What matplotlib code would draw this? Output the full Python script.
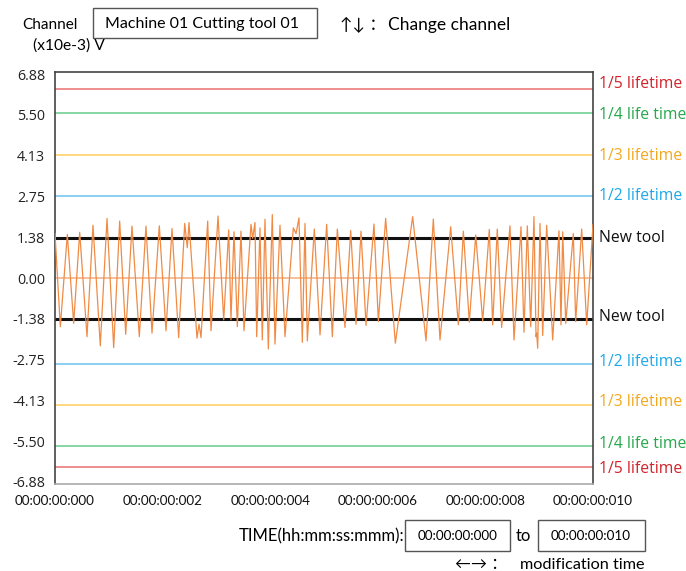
import matplotlib
matplotlib.use("Agg")
import matplotlib.pyplot as plt
from matplotlib.patches import Rectangle

W, H = 686, 571

# waveform extrema, time in ms, value in x10e-3 V
t_ms = [0.000, 0.099, 0.229, 0.347, 0.459, 0.595, 0.706, 0.842, 0.967, 1.091,
        1.202, 1.314, 1.431, 1.567, 1.691, 1.803, 1.939, 2.063, 2.175, 2.299,
        2.411, 2.459, 2.491, 2.639, 2.677, 2.714, 2.838, 2.900, 3.030, 3.136,
        3.229, 3.271, 3.327, 3.389, 3.457, 3.513, 3.643, 3.674, 3.717, 3.749,
        3.810, 3.853, 3.903, 3.965, 4.039, 4.089, 4.182, 4.275, 4.430, 4.480,
        4.535, 4.597, 4.647, 4.690, 4.820, 4.926, 5.050, 5.155, 5.248, 5.390,
        5.496, 5.595, 5.688, 5.781, 5.929, 6.010, 6.146, 6.326, 6.648, 6.896,
        7.032, 7.156, 7.355, 7.497, 7.590, 7.701, 7.820, 7.950, 8.073, 8.135,
        8.221, 8.302, 8.457, 8.532, 8.662, 8.717, 8.779, 8.842, 8.903, 8.941,
        8.953, 8.972, 9.015, 9.065, 9.139, 9.251, 9.368, 9.405, 9.437, 9.493,
        9.634, 9.678, 9.790, 9.883, 10.000]
volt = [1.50, -1.64, 1.47, -1.53, 1.54, -1.98, 1.78, -2.29, 2.01, -2.35,
        1.92, -1.90, 1.75, -1.98, 1.75, -1.86, 1.76, -1.78, 1.67, -2.01,
        1.84, 1.02, 1.87, -2.03, -1.56, -2.01, 1.92, -1.78, 2.09, -1.41,
        1.62, -1.41, 1.56, -1.64, 1.58, -1.78, 1.81, 1.34, 1.87, -1.98,
        1.69, -2.09, 1.98, -2.39, 2.14, -2.23, 1.78, -1.98, 1.69, 1.50,
        2.03, -2.17, 1.84, -2.12, 1.65, -1.92, 1.81, -1.98, 1.65, -1.67,
        1.60, -1.56, 1.58, -1.60, 1.82, -1.47, 2.01, -2.20, 2.07, -2.12,
        1.99, -2.09, 1.73, -1.58, 1.58, -1.49, 1.45, -1.45, 1.64, -1.58,
        1.65, -1.67, 1.76, -2.09, 1.73, -1.83, 1.76, -1.64, 2.07, -1.98,
        -1.86, -2.37, 1.84, -1.94, 1.78, -2.09, 1.59, -1.58, 1.56, -1.53,
        1.50, -1.47, 1.65, -1.58, 1.80]

# threshold lines (1/5, 1/4, 1/3, 1/2 lifetime, new tool)
upper_levels = [6.36, 5.55, 4.15, 2.75, 1.36]
lower_levels = [-6.36, -5.68, -4.30, -2.90, -1.38]
level_names = ["1/5 lifetime", "1/4 life time", "1/3 lifetime", "1/2 lifetime", "New tool"]
line_colors = ["#EC7B7B", "#72CF93", "#FFD36B", "#79C8F0", "#111111"]
text_colors = ["#D2232A", "#25A84A", "#F2A81D", "#1FA8E8", "#111111"]
upper_text_y = [6.55, 5.50, 4.13, 2.75, 1.36]
lower_text_y = [-6.46, -5.60, -4.20, -2.82, -1.30]

yticks = [6.88, 5.50, 4.13, 2.75, 1.38, 0.00, -1.38, -2.75, -4.13, -5.50, -6.88]
xticks = [0, 2, 4, 6, 8, 10]
xtick_labels = ["00:00:00:000", "00:00:00:002", "00:00:00:004",
                "00:00:00:006", "00:00:00:008", "00:00:00:010"]

plt.rcParams['font.family'] = ['Lato', 'DejaVu Sans', 'Noto Sans CJK SC']

fig = plt.figure(figsize=(W / 100, H / 100), dpi=100)
ax = fig.add_axes([55 / W, 1 - 484 / H, (593 - 55) / W, (484 - 72) / H])

ax.axhline(0, color="#F6B48A", lw=1.2, zorder=1)
for i in range(5):
    lw = 2.2 if i == 4 else 1.2
    ax.axhline(upper_levels[i], color=line_colors[i], lw=lw, zorder=2)
    ax.axhline(lower_levels[i], color=line_colors[i], lw=lw, zorder=2)
    ax.text(1.012, upper_text_y[i], level_names[i], color=text_colors[i],
            transform=ax.get_yaxis_transform(), fontsize=11.3,
            va="center", ha="left", family="Open Sans")
    ax.text(1.012, lower_text_y[i], level_names[i], color=text_colors[i],
            transform=ax.get_yaxis_transform(), fontsize=11.3,
            va="center", ha="left", family="Open Sans")

ax.plot(t_ms, volt, color="#F08B45", lw=0.9, zorder=3)

ax.set_xlim(0, 10)
ax.set_ylim(-6.95, 6.95)
ax.set_yticks(yticks)
ax.set_yticklabels(["%.2f" % v for v in yticks], family="Open Sans", fontsize=10.3, color="#222222")
ax.set_xticks(xticks)
ax.set_xticklabels(xtick_labels, fontsize=9.7, color="#111111")
ax.tick_params(length=0, pad=7)
ax.tick_params(axis="x", pad=8)
for s in ["left", "top", "right"]:
    ax.spines[s].set_color("#444444")
    ax.spines[s].set_linewidth(1.2)
ax.spines["bottom"].set_color("#AAAAAA")
ax.spines["bottom"].set_linewidth(1.2)


def fx(x):
    return x / W


def fy(y):
    return 1 - y / H


def box(x0, y0, x1, y1):
    fig.add_artist(Rectangle((fx(x0), fy(y1)), fx(x1) - fx(x0), fy(y0) - fy(y1),
                             transform=fig.transFigure, fill=False,
                             edgecolor="#555555", lw=1.0))


# header
fig.text(fx(22), fy(25), "Channel", fontsize=11, va="center", ha="left")
box(93, 8, 317, 38)
fig.text(fx(105), fy(24), "Machine 01 Cutting tool 01", fontsize=11.5, va="center", ha="left")
fig.text(fx(340), fy(25), "↑↓ ：", fontsize=12, va="center", ha="left")
fig.text(fx(388), fy(25), "Change channel", fontsize=12.5, va="center", ha="left")
fig.text(fx(33), fy(46), "(x10e-3) V", fontsize=11.2, va="center", ha="left")

# time range footer
fig.text(fx(404), fy(536), "TIME(hh:mm:ss:mmm):", fontsize=12, va="center", ha="right")
box(405, 520, 510, 551)
fig.text(fx(458), fy(536), "00:00:00:000", fontsize=9.7, va="center", ha="center")
fig.text(fx(523), fy(536), "to", fontsize=12, va="center", ha="center")
box(538, 520, 645, 551)
fig.text(fx(591), fy(536), "00:00:00:010", fontsize=9.7, va="center", ha="center")
fig.text(fx(455), fy(565), "←→ ：", fontsize=11.5, va="center", ha="left")
fig.text(fx(520), fy(565), "modification time", fontsize=11.7, va="center", ha="left")

fig.savefig("out.png", dpi=100)
